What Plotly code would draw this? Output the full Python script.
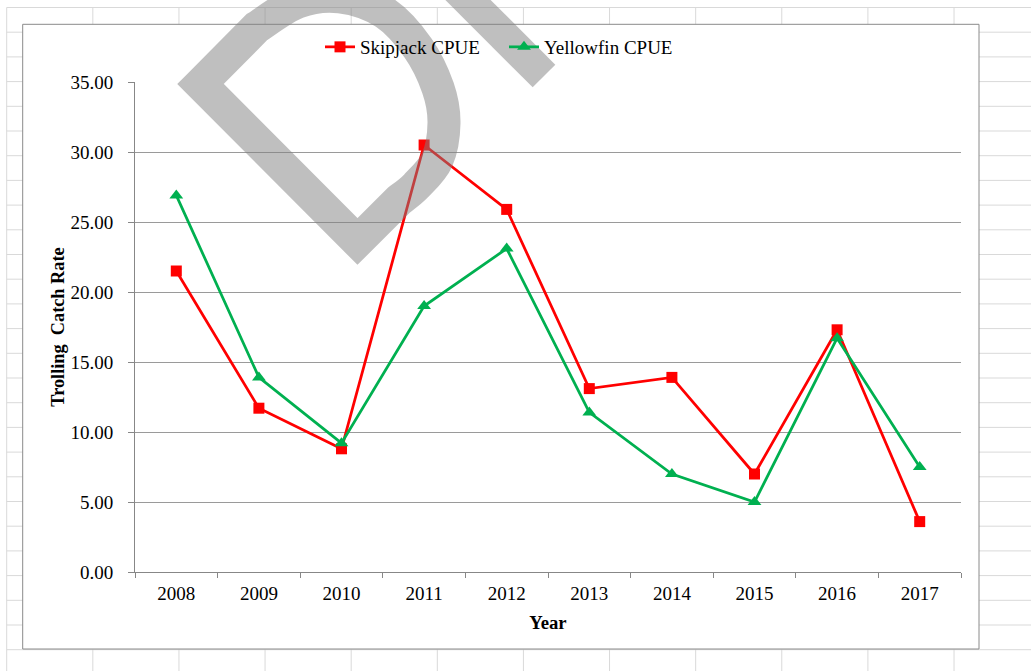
import plotly.graph_objects as go

# ---- data ----
years = ["2008", "2009", "2010", "2011", "2012", "2013", "2014", "2015", "2016", "2017"]
skipjack = [21.5, 11.7, 8.8, 30.5, 25.9, 13.1, 13.9, 7.0, 17.3, 3.6]
yellowfin = [26.9, 13.9, 9.2, 19.0, 23.1, 11.4, 7.0, 5.0, 16.7, 7.5]
y_ticks = [0, 5, 10, 15, 20, 25, 30, 35]

W, H = 1031, 671
L, R, T, B = 135, 70, 82, 99
PW, PH = W - L - R, H - T - B


def px(x):
    return (x - L) / PW


def py(y):
    return (H - B - y) / PH


FONT = "Liberation Serif, Times New Roman, serif"

fig = go.Figure()
fig.add_trace(go.Scatter(
    x=years, y=skipjack, name="Skipjack CPUE", mode="lines+markers",
    line=dict(color="#FF0000", width=2.75),
    marker=dict(symbol="square", size=11, color="#FF0000"),
    legend="legend"))
fig.add_trace(go.Scatter(
    x=years, y=yellowfin, name="Yellowfin CPUE", mode="lines+markers",
    line=dict(color="#00B050", width=2.75),
    marker=dict(symbol="triangle-up", size=12, color="#00B050"),
    legend="legend2"))

shapes = []
# spreadsheet grid behind the chart
gx0, gdx = 6.7, 86.12
gy0, gdy = 7.5, 24.7
k = 0
while gx0 + k * gdx < W + 1:
    x = gx0 + k * gdx
    shapes.append(dict(type="line", xref="paper", yref="paper", layer="below",
                       x0=px(x), x1=px(x), y0=py(gy0), y1=py(H + 2),
                       line=dict(color="#d9d9d9", width=1)))
    k += 1
k = 0
while gy0 + k * gdy < H + 1:
    y = gy0 + k * gdy
    shapes.append(dict(type="line", xref="paper", yref="paper", layer="below",
                       x0=px(gx0), x1=px(W + 2), y0=py(y), y1=py(y),
                       line=dict(color="#d9d9d9", width=1)))
    k += 1
# chart area
shapes.append(dict(type="rect", xref="paper", yref="paper", layer="below",
                   x0=px(22.7), x1=px(979), y0=py(24.3), y1=py(649),
                   fillcolor="white", line=dict(color="#8a8a8a", width=1)))


# watermark ("D" of a diagonal DRAFT stamp), semi-transparent on top
def catmull(pts):
    segs = []
    for i in range(len(pts) - 1):
        p0 = pts[i - 1] if i > 0 else pts[i]
        p1 = pts[i]
        p2 = pts[i + 1]
        p3 = pts[i + 2] if i + 2 < len(pts) else pts[i + 1]
        c1 = (p1[0] + (p2[0] - p0[0]) / 6, p1[1] + (p2[1] - p0[1]) / 6)
        c2 = (p2[0] - (p3[0] - p1[0]) / 6, p2[1] - (p3[1] - p1[1]) / 6)
        segs.append((c1, c2, p2))
    return segs


def P(p):
    return f"{px(p[0]):.5f},{py(p[1]):.5f}"


bowl = [(257, 27), (298, 2), (340, -3), (385, 13), (418, 48), (438, 88),
        (444, 123), (437, 160), (416, 186), (399, 200)]
path = f"M{P((200.5, 84))} L{P(bowl[0])}"
for c1, c2, p2 in catmull(bowl):
    path += f" C{P(c1)} {P(c2)} {P(p2)}"
path += f" L{P((357.5, 241.5))} Z"
wm = "rgba(128,128,128,0.5)"
shapes.append(dict(type="path", xref="paper", yref="paper", layer="above",
                   path=path, line=dict(color=wm, width=33)))
shapes.append(dict(type="line", xref="paper", yref="paper", layer="above",
                   x0=px(455), y0=py(-13), x1=px(544), y1=py(76),
                   line=dict(color=wm, width=32)))

fig.update_layout(
    width=W, height=H,
    margin=dict(l=L, r=R, t=T, b=B, autoexpand=False),
    paper_bgcolor="white", plot_bgcolor="rgba(0,0,0,0)",
    font=dict(family=FONT, size=19, color="black"),
    showlegend=True,
    legend=dict(orientation="h", x=px(320), xanchor="left", y=py(47), yanchor="middle",
                bgcolor="rgba(0,0,0,0)", font=dict(family=FONT, size=19, color="black")),
    legend2=dict(orientation="h", x=px(504), xanchor="left", y=py(47), yanchor="middle",
                 bgcolor="rgba(0,0,0,0)", font=dict(family=FONT, size=19, color="black")),
    shapes=shapes,
    xaxis=dict(type="category", range=[-0.5, len(years) - 0.5], tickson="boundaries",
               ticks="outside", ticklen=5,
               tickcolor="#878787", showline=True, linecolor="#878787", linewidth=1,
               showgrid=False, tickfont=dict(family=FONT, size=19), ticklabelstandoff=4,
               title=dict(text="<b>Year</b>", font=dict(family=FONT, size=18.7), standoff=13)),
    yaxis=dict(range=[0, 35], tickvals=y_ticks, tickformat=".2f", ticks="outside",
               ticklen=6, tickcolor="#878787", showline=True, linecolor="#878787",
               linewidth=1, showgrid=True, gridcolor="#9a9a9a", gridwidth=1,
               zeroline=False, tickfont=dict(family=FONT, size=19), ticklabelstandoff=11,
               title=dict(text="<b>Trolling  Catch Rate</b>", font=dict(family=FONT, size=18.3),
                          standoff=1)),
)

fig.write_html("out.html", config={"displayModeBar": False},
               post_script="document.body.style.margin='0';document.body.style.overflow='hidden';")
